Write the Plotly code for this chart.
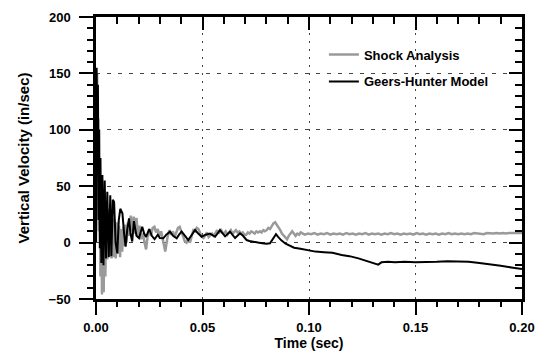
import plotly.graph_objects as go

# ---- data ----
shock_t = [0, 0.0003, 0.0005, 0.0008, 0.0011, 0.0014, 0.0017, 0.0021, 0.0025, 0.0028,
           0.0032, 0.0036, 0.0040, 0.0044, 0.0048, 0.0053, 0.0058, 0.0063, 0.0068, 0.0073,
           0.0078, 0.0083, 0.0088, 0.0093, 0.0098, 0.0103, 0.0108, 0.0113, 0.0118, 0.0123,
           0.0128, 0.0133, 0.0138, 0.0143, 0.0150, 0.0157, 0.0163, 0.0170, 0.0177, 0.0184,
           0.0190, 0.0197, 0.0204, 0.0212, 0.0220, 0.0228, 0.0235, 0.0242, 0.0250, 0.0258,
           0.0266, 0.0274, 0.0282, 0.0290, 0.0298, 0.0306, 0.0314, 0.0320, 0.0325, 0.0330,
           0.0337, 0.0345, 0.0353, 0.0361, 0.0369, 0.0377, 0.0385, 0.0393, 0.0401, 0.0409,
           0.0417, 0.0425, 0.0433, 0.0441, 0.0449, 0.0457, 0.0465, 0.0473, 0.0481, 0.0489,
           0.0497, 0.0505, 0.0513, 0.0521, 0.0529, 0.0537, 0.0545, 0.0553, 0.0561, 0.0569,
           0.0577, 0.0585, 0.0593, 0.0601, 0.0609, 0.0617, 0.0625, 0.0633, 0.0641, 0.0649,
           0.0657, 0.0665, 0.0673, 0.0681, 0.0689, 0.0697, 0.0705, 0.0713, 0.0721, 0.0729,
           0.0737, 0.0745, 0.0753, 0.0761, 0.0769, 0.0777, 0.0785, 0.0793, 0.0801, 0.0809,
           0.0817, 0.0825, 0.0833, 0.0841, 0.0849, 0.0857, 0.0865, 0.0873, 0.0881, 0.0889,
           0.0897, 0.0905, 0.0913, 0.0921, 0.0929, 0.0937, 0.0945, 0.0953, 0.0961, 0.0969,
           0.0980, 0.0995, 0.1010, 0.1025, 0.1040, 0.1055, 0.1070, 0.1085, 0.1100, 0.1115,
           0.1130, 0.1145, 0.1160, 0.1175, 0.1190, 0.1205, 0.1220, 0.1235, 0.1250, 0.1265,
           0.1280, 0.1295, 0.1310, 0.1325, 0.1340, 0.1355, 0.1370, 0.1385, 0.1400, 0.1415,
           0.1430, 0.1445, 0.1460, 0.1475, 0.1490, 0.1505, 0.1520, 0.1535, 0.1550, 0.1565,
           0.1580, 0.1595, 0.1610, 0.1625, 0.1640, 0.1655, 0.1670, 0.1685, 0.1700, 0.1715,
           0.1730, 0.1745, 0.1760, 0.1775, 0.1790, 0.1805, 0.1820, 0.1835, 0.1850, 0.1865,
           0.1880, 0.1895, 0.1910, 0.1925, 0.1940, 0.1955, 0.1970, 0.1985, 0.2000]
shock_v = [0, 100, 150, 60, 110, 10, 70, -30, 40, -46,
           30, -44, 35, -30, 28, -15, 30, -12, 25, -14,
           22, -13, 20, -14, 18, -10, 15, -13, 12, -8,
           14, -3, 16, 0, 18, 6, 24, 10, 23, 8,
           22, 5, 15, 3, 8, 0, -6, 5, 12, 6,
           13, 14, 9, 12, 6, 10, 3, -5, -8, -2,
           6, 11, 7, 10, 5, 9, 13, 14, 9, 4,
           1, 0, 3, 0, 6, 11, 10, 13, 12, 8,
           5, 4, 6, 9, 5, 7, 8, 6, 9, 11,
           8, 12, 9, 8, 10, 7, 9, 11, 8, 10,
           11, 9, 10, 8, 9, 7, 7, 9, 8, 10,
           9, 8, 10, 9, 10, 9, 11, 10, 11, 13,
           12, 15, 17, 18, 16, 13, 11, 8, 6, 4,
           3, 6, 8, 10, 8, 6, 8, 7, 9, 8,
           7, 8, 7.5, 8.5, 7, 8, 7.5, 8.5, 7, 8,
           7.5, 8, 7, 8.5, 7.5, 8, 7, 8, 7.5, 8.5,
           7, 8, 7.5, 8, 7, 8, 7.5, 8.5, 7.5, 8,
           7, 8, 7.5, 8, 7, 8.5, 7.5, 8, 7, 8,
           7.5, 8, 7, 8, 7.5, 8.5, 7.5, 8, 7.5, 8,
           7.5, 8, 7.5, 8.5, 8, 8, 7.5, 8.5, 8, 8,
           8.5, 8, 8.5, 8, 8.5, 8.5, 8, 8.5, 8.5]

geers_t = [0, 0.0003, 0.0006, 0.0009, 0.0012, 0.0015, 0.0018, 0.0021, 0.0025, 0.0030,
           0.0035, 0.0041, 0.0047, 0.0053, 0.0060, 0.0067, 0.0072, 0.0079, 0.0085, 0.0092,
           0.0100, 0.0107, 0.0114, 0.0124, 0.0132, 0.0139, 0.0147, 0.0155, 0.0162, 0.0170,
           0.0178, 0.0190, 0.0202, 0.0210, 0.0217, 0.0226, 0.0235, 0.0250, 0.0262, 0.0275,
           0.0290, 0.0300, 0.0316, 0.0330, 0.0347, 0.0362, 0.0379, 0.0390, 0.0402, 0.0418,
           0.0433, 0.0450, 0.0465, 0.0480, 0.0496, 0.0515, 0.0535, 0.0559, 0.0582, 0.0606,
           0.0629, 0.0653, 0.0676, 0.0690, 0.0707, 0.0720, 0.0740, 0.0760, 0.0780, 0.0800,
           0.0817, 0.0830, 0.0845, 0.0855, 0.0870, 0.0890, 0.0905, 0.0930, 0.0960, 0.0997,
           0.1030, 0.1070, 0.1110, 0.1153, 0.1190, 0.1232, 0.1270, 0.1300, 0.1325, 0.1340,
           0.1370, 0.1404, 0.1450, 0.1500, 0.1550, 0.1600, 0.1650, 0.1700, 0.1750, 0.1800,
           0.1850, 0.1900, 0.1950, 0.2000]
geers_v = [0, 155, 60, 140, 20, 100, -5, 75, -18, 60,
           -20, 55, -14, 45, -13, 42, -12, 38, 36, 0,
           -9.5, 20, 30, 26, 8, -3.6, 12, 21.5, 8, 1,
           19, 6, 4, 10, 14, 8, 5, 12, 6, 3,
           7, 4, 3.8, 7, 9.7, 6, 3.8, 7, 9.7, 6,
           2.3, 7, 11.2, 8, 5.2, 7, 8, 5.2, 11, 5.5,
           9.7, 4, 8.2, 6, 2.3, 1.5, 0.5, 0, -0.5, -1,
           -0.6, 3, 7.5, 5, 2, -1, -2.5, -4.5, -5.5, -7,
           -8, -8.5, -9, -11, -12, -14, -16, -18, -19.5, -17.5,
           -17, -17.5, -17, -17.5, -17.5, -17, -16.5, -16.5, -17, -18,
           -19, -20.5, -22, -23.5]

x_range = [0, 0.2]
y_range = [-50, 200]
x_major, x_minor = 0.05, 0.01
y_major, y_minor = 50, 10

FONT = "Liberation Sans"

fig = go.Figure()
fig.add_trace(go.Scatter(x=shock_t, y=shock_v, mode="lines", name="Shock Analysis",
                         legendgroup="a",
                         line=dict(color="#9a9a9a", width=2.5)))
fig.add_trace(go.Scatter(x=geers_t, y=geers_v, mode="lines", name="Geers-Hunter Model",
                         legendgroup="b",
                         line=dict(color="black", width=2)))
# helper (empty) traces so the extra tick-only axes are drawn
for xa, ya in (("x2", "y2"), ("x3", "y3"), ("x4", "y4")):
    fig.add_trace(go.Scatter(x=[], y=[], xaxis=xa, yaxis=ya, showlegend=False,
                             hoverinfo="skip"))

tickfont = dict(family=FONT, size=13, color="black", weight="bold")


def tick_axis(rng, dtick, side, ticks, ticklen, overlay, anchor, line=False):
    return dict(range=rng, overlaying=overlay, side=side, anchor=anchor,
                tickmode="linear", tick0=0, dtick=dtick, showticklabels=False,
                ticks=ticks, ticklen=ticklen, tickwidth=2, tickcolor="black",
                showline=line, linewidth=2.5, linecolor="black",
                showgrid=False, zeroline=False, automargin=False, fixedrange=True)


fig.update_layout(
    width=550, height=355,
    margin=dict(l=96, r=28, t=17, b=56),
    plot_bgcolor="white", paper_bgcolor="white",
    font=dict(family=FONT, color="black"),
    showlegend=True,
    legend=dict(x=0.535, y=0.92, xanchor="left", yanchor="top",
                bgcolor="rgba(0,0,0,0)", borderwidth=0,
                font=dict(family=FONT, size=13, color="black", weight="bold"),
                tracegroupgap=7),
    xaxis=dict(range=x_range, tickmode="linear", tick0=0, dtick=x_major, tickformat=".2f",
               ticks="outside", ticklen=13, tickwidth=2, tickcolor="black",
               ticklabelstandoff=2, automargin=False,
               showline=True, linewidth=2.5, linecolor="black",
               showgrid=True, gridcolor="#444", gridwidth=1, griddash="2px,6px",
               zeroline=False, tickfont=tickfont,
               title=dict(text="Time (sec)",
                          font=dict(family=FONT, size=14, color="black", weight="bold"),
                          standoff=4)),
    yaxis=dict(range=y_range, tickmode="linear", tick0=0, dtick=y_major,
               ticks="outside", ticklen=14, tickwidth=2, tickcolor="black",
               ticklabelstandoff=6, automargin=False,
               showline=True, linewidth=2.5, linecolor="black",
               showgrid=True, gridcolor="#444", gridwidth=1, griddash="4px,7px",
               zeroline=False, tickfont=tickfont,
               title=dict(text="Vertical Velocity (in/sec)",
                          font=dict(family=FONT, size=15, color="black", weight="bold"),
                          standoff=16)),
    # top / right mirrored major ticks (pointing inwards)
    xaxis2=tick_axis(x_range, x_major, "top", "inside", 13, "x", "y2", line=True),
    yaxis2=tick_axis(y_range, y_major, "right", "inside", 13, "y", "x2", line=True),
    # bottom / left minor ticks (outside)
    xaxis3=tick_axis(x_range, x_minor, "bottom", "outside", 7, "x", "y3"),
    yaxis3=tick_axis(y_range, y_minor, "left", "outside", 8, "y", "x3"),
    # top / right minor ticks (inside)
    xaxis4=tick_axis(x_range, x_minor, "top", "inside", 7, "x", "y4"),
    yaxis4=tick_axis(y_range, y_minor, "right", "inside", 7, "y", "x4"),
)

fig.write_html("out.html")
